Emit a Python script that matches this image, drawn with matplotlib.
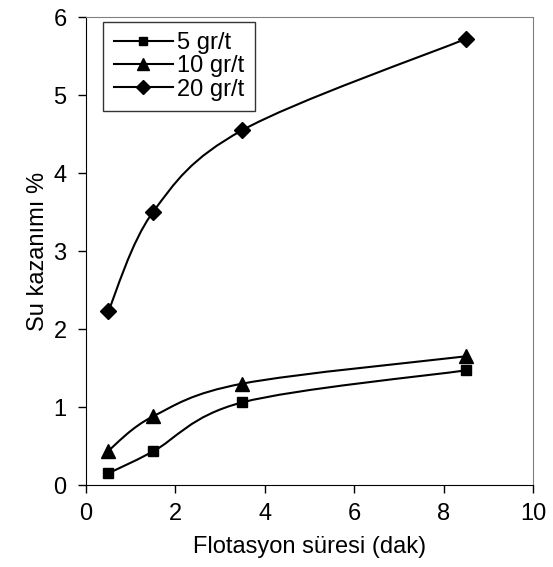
import matplotlib
matplotlib.use("Agg")
import matplotlib.pyplot as plt
from matplotlib.path import Path
from matplotlib.patches import PathPatch
import numpy as np

plt.rcParams['font.family'] = ['Liberation Sans', 'DejaVu Sans']

# data
sure = [0.5, 1.5, 3.5, 8.5]
su_5 = [0.15, 0.43, 1.06, 1.47]
su_10 = [0.44, 0.88, 1.30, 1.65]
su_20 = [2.23, 3.50, 4.55, 5.72]
etiketler = ['5 gr/t', '10 gr/t', '20 gr/t']
isaretler = ['s', '^', 'D']
boyutlar = [7.5, 10, 8]


def smooth_path(x, y):
    # Excel-like smoothed line: cubic bezier segments through the points
    p = np.column_stack([x, y])
    verts = [p[0]]
    codes = [Path.MOVETO]
    n = len(p)
    for i in range(n - 1):
        p0 = p[i - 1] if i > 0 else p[i]
        p3 = p[i + 2] if i + 2 < n else p[i + 1]
        c1 = p[i] + (p[i + 1] - p0) / 6.0
        c2 = p[i + 1] - (p3 - p[i]) / 6.0
        verts += [c1, c2, p[i + 1]]
        codes += [Path.CURVE4] * 3
    return Path(verts, codes)


fig = plt.figure(figsize=(5.53, 5.67), dpi=100)
ax = fig.add_axes([0.1555, 0.1446, 0.8083, 0.8254])

for seri, et, m, ms in zip([su_5, su_10, su_20], etiketler, isaretler, boyutlar):
    ax.add_patch(PathPatch(smooth_path(sure, seri), fill=False, edgecolor='black', lw=1.5))
    ax.plot(sure, seri, linestyle='none', marker=m, color='black', markersize=ms)
    ax.plot([], [], color='black', lw=1.5, marker=m, markersize=ms * 0.85, label=et)

ax.set_xlim(0, 10)
ax.set_ylim(0, 6)
ax.set_xticks([0, 2, 4, 6, 8, 10])
ax.set_yticks([0, 1, 2, 3, 4, 5, 6])
ax.tick_params(labelsize=17, length=6, width=1, direction='out', color='black')
ax.tick_params(axis='x', pad=7)
ax.tick_params(axis='y', pad=8)
for s in ['top', 'right']:
    ax.spines[s].set_color('#808080')
for s in ['left', 'bottom']:
    ax.spines[s].set_color('black')

ax.set_xlabel('Flotasyon süresi (dak)', fontsize=17, labelpad=8)
ax.set_ylabel('Su kazanımı %', fontsize=17, labelpad=3)

leg = ax.legend(loc='upper left', fontsize=17, frameon=True, fancybox=False,
                edgecolor='black', handlelength=2.5, handletextpad=0.2,
                labelspacing=0.05, borderpad=0.45, borderaxespad=0.0,
                bbox_to_anchor=(0.038, 0.99))
leg.get_frame().set_linewidth(1.0)

fig.savefig('out.png', dpi=100)
